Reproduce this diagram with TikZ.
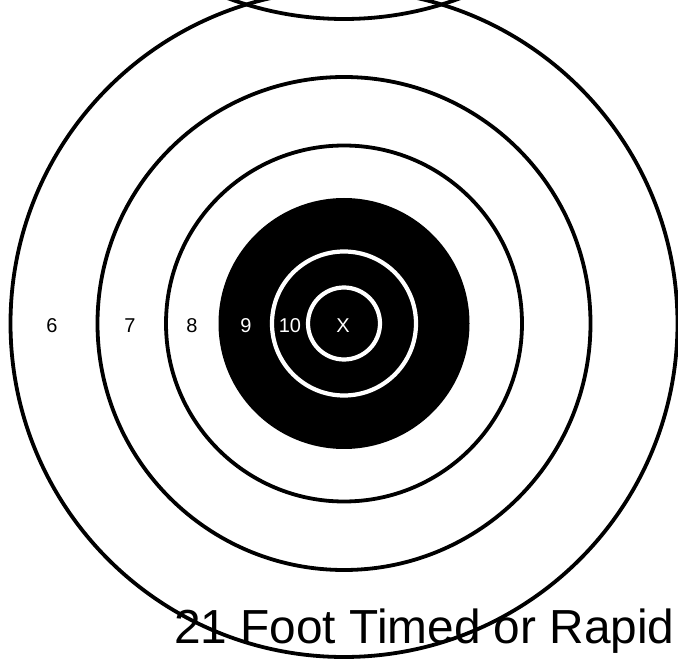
\documentclass[tikz,border=0pt]{standalone}
\usepackage{fontspec}
\setmainfont{Liberation Sans}
\begin{document}
\begin{tikzpicture}[x=1pt,y=-1pt,
  blackring/.style={draw=black,line width=3.8pt},
  whitering/.style={draw=white,line width=4.2pt},
  lbl/.style={inner sep=0pt,font=\fontsize{20}{20}\selectfont},
  wlbl/.style={lbl,text=white}]
\useasboundingbox (0,0) rectangle (678,660);
\clip (0,0) rectangle (678,660);
\coordinate (c) at (344,323.5);
\coordinate (ctop) at (344,-314.5);
% neighbouring target above
\draw[blackring] (ctop) circle[radius=333.5];
% rings
\draw[blackring] (c) circle[radius=333.5];
\draw[blackring] (c) circle[radius=246.5];
\draw[blackring] (c) circle[radius=178];
\fill[black] (c) circle[radius=125.5];
\draw[whitering] (c) circle[radius=72];
\draw[whitering] (c) circle[radius=36];
% score labels
\node[lbl] (s6) at (52,326) {6};
\node[lbl] (s7) at (130,326) {7};
\node[lbl] (s8) at (192,326) {8};
\node[wlbl] (s9) at (246,326) {9};
\node[wlbl] (s10) at (290,326) {10};
\node[wlbl] (sx) at (343,326) {X};
% title
\node[inner sep=0pt,anchor=base west,font=\fontsize{47.8}{48}\selectfont] (title) at (174,643) {21 Foot Timed or Rapid};
\end{tikzpicture}
\end{document}
